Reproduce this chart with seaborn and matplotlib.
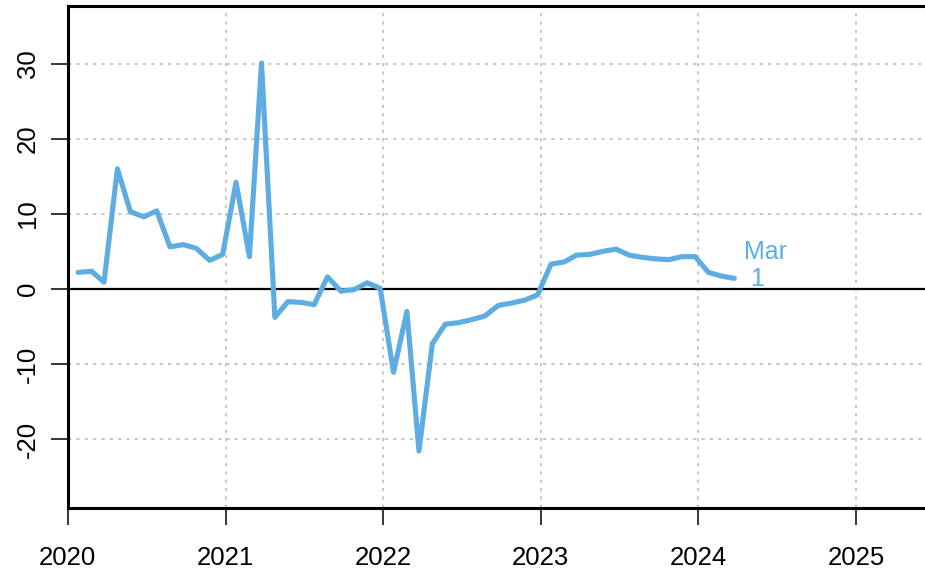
import matplotlib
matplotlib.use("Agg")
import matplotlib.pyplot as plt
import matplotlib.dates as mdates
import numpy as np
import pandas as pd
import seaborn as sns

sns.set_style("white")
plt.rcParams["font.family"] = ["Liberation Sans", "DejaVu Sans"]
plt.rcParams["axes.unicode_minus"] = False

# monthly values, Jan 2020 .. Mar 2024
values = [
    2.2, 2.35, 0.9, 16.0, 10.3, 9.6, 10.4, 5.6, 5.9, 5.4, 3.8, 4.6,
    14.2, 4.3, 30.1, -3.8, -1.7, -1.8, -2.1, 1.6, -0.3, -0.1, 0.8, 0.1,
    -11.1, -3.0, -21.6, -7.3, -4.7, -4.5, -4.1, -3.6, -2.2, -1.9, -1.5, -0.8,
    3.3, 3.6, 4.5, 4.6, 5.0, 5.3, 4.5, 4.2, 4.0, 3.9, 4.3, 4.3,
    2.2, 1.7, 1.4,
]
dates = pd.date_range("2020-01-25", periods=len(values), freq=pd.DateOffset(months=1))
yticks = [-20, -10, 0, 10, 20, 30]
years = [2020, 2021, 2022, 2023, 2024, 2025]

line_col = "#5DADE2"
df = pd.DataFrame({"date": dates, "value": values})

fig = plt.figure(figsize=(9.25, 5.71), dpi=100)
ax = fig.add_axes([0.0733, 0.1103, 1 - 0.0733, 0.9895 - 0.1103])

# grid first so the series sits on top
for yv in yticks:
    if yv != 0:
        ax.axhline(yv, color="#bdbdbd", lw=1.2, ls=(0, (2, 3)), zorder=1)
for yr in years:
    ax.axvline(pd.Timestamp(f"{yr}-01-01"), color="#bdbdbd", lw=1.2, ls=(0, (2, 3)), zorder=1)
ax.axhline(0, color="black", lw=1.6, zorder=2)

sns.lineplot(data=df, x="date", y="value", color=line_col, lw=3.7, ax=ax,
             solid_capstyle="round", solid_joinstyle="round", zorder=3)

last = df.iloc[-1]
ax.annotate(f"{last['date']:%b}\n {round(last['value'])}",
            xy=(last["date"], last["value"]), xytext=(10, 13),
            textcoords="offset pixels", ha="left", va="center",
            color=line_col, fontsize=18, linespacing=1.15)

ax.set_xlim(pd.Timestamp("2020-01-01"), pd.Timestamp("2025-06-10"))
ax.set_ylim(-29.2, 37.7)
ax.set_yticks(yticks)
ax.set_xticks([pd.Timestamp(f"{yr}-01-01") for yr in years])
ax.xaxis.set_major_formatter(mdates.DateFormatter("%Y"))
ax.set_xlabel("")
ax.set_ylabel("")

for side in ["left", "bottom", "top"]:
    ax.spines[side].set_linewidth(2.2)
    ax.spines[side].set_color("black")
ax.spines["right"].set_visible(False)

ax.tick_params(axis="both", direction="out", length=12, width=1.1,
               colors="black", labelsize=18.5, left=True, bottom=True)
ax.tick_params(axis="x", pad=15)
ax.tick_params(axis="y", pad=8)
plt.setp(ax.get_yticklabels(), rotation=90, va="center")

fig.savefig("out.png", dpi=100)
